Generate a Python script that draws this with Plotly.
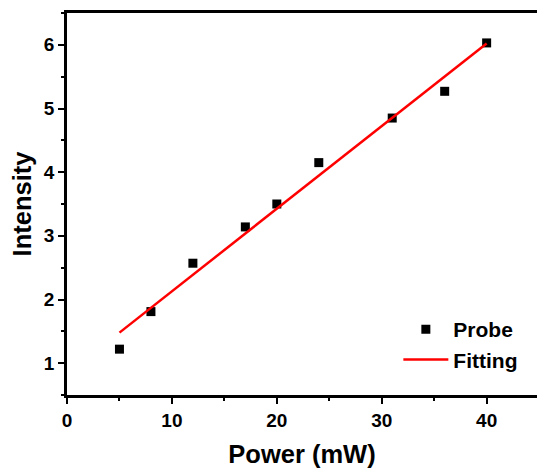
import plotly.graph_objects as go

power = [5, 8, 12, 17, 20, 24, 31, 36, 40]
intensity = [1.22, 1.81, 2.57, 3.14, 3.50, 4.15, 4.85, 5.27, 6.03]
fit_power = [5, 40]
fit_intensity = [1.48, 6.02]
x_ticks = [0, 10, 20, 30, 40]
y_ticks = [1, 2, 3, 4, 5, 6]

FONT = "Liberation Sans"

fig = go.Figure()
fig.add_trace(go.Scatter(x=power, y=intensity, mode="markers", name="Probe",
                         marker=dict(symbol="square", size=9, color="black")))
fig.add_trace(go.Scatter(x=fit_power, y=fit_intensity, mode="lines", name="Fitting",
                         line=dict(color="#ff0000", width=2.5)))

axis_common = dict(showgrid=False, zeroline=False, showline=True, linecolor="black",
                   linewidth=2.5, ticks="outside", ticklen=6, tickwidth=2, tickcolor="black",
                   tickfont=dict(family=FONT, size=19, color="black", weight="bold"))

fig.update_xaxes(range=[0, 44.8], tickvals=x_ticks, ticktext=[f"<b>{v}</b>" for v in x_ticks],
                 mirror=True,
                 minor=dict(ticks="outside", dtick=5, ticklen=3.5, tickwidth=2, tickcolor="black"),
                 title=dict(text="<b>Power (mW)</b>", font=dict(family=FONT, size=25.5, color="black", weight="bold"),
                            standoff=16),
                 **axis_common)
fig.update_yaxes(range=[0.5, 6.5], tickvals=y_ticks, ticktext=[f"<b>{v}</b>" for v in y_ticks],
                 mirror=False,
                 minor=dict(ticks="outside", dtick=0.5, ticklen=3.5, tickwidth=2, tickcolor="black"),
                 title=dict(text="<b>Intensity</b>", font=dict(family=FONT, size=25.5, color="black", weight="bold"),
                            standoff=5),
                 **axis_common)

fig.update_layout(width=537, height=472, margin=dict(l=67, r=0, t=13, b=77),
                  plot_bgcolor="white", paper_bgcolor="white",
                  legend=dict(x=0.705, y=0.225, xanchor="left", yanchor="top",
                              font=dict(family=FONT, size=21, color="black", weight="bold"),
                              bgcolor="rgba(0,0,0,0)", tracegroupgap=0, itemwidth=45),
                  showlegend=True)

fig.write_html("out.html")
